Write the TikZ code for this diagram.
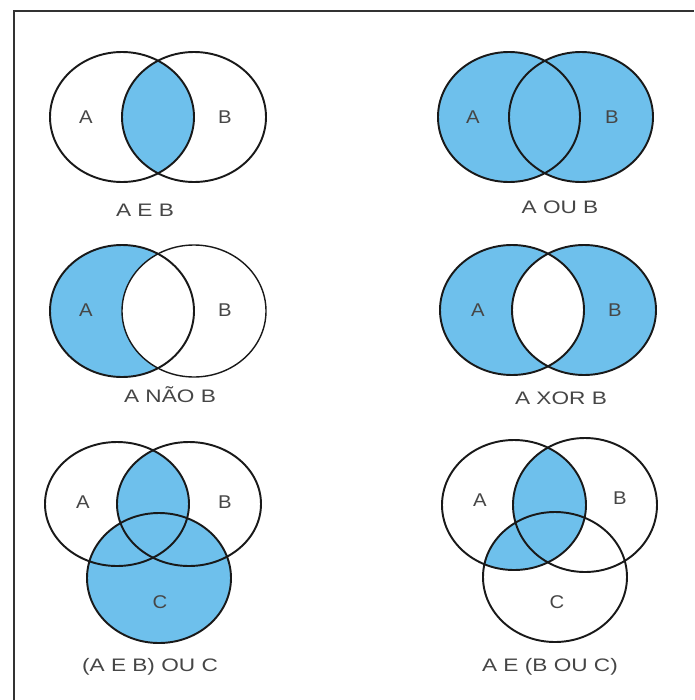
\documentclass[tikz,border=0pt]{standalone}
\usepackage{fontspec}
\setmainfont{Liberation Sans}
\definecolor{setblue}{RGB}{110,192,236}
\definecolor{txtgray}{RGB}{70,70,70}
\begin{document}
\begin{tikzpicture}[x=0.02cm,y=-0.02cm,
  setline/.style={draw=black!90,line width=1.1pt},
  lbl/.style={font=\fontsize{10.5}{12}\selectfont,text=txtgray,inner sep=0pt,xscale=1.1},
  captext/.style={font=\fontsize{10.3}{12}\selectfont,text=txtgray,inner sep=0pt,xscale=1.25}]
\useasboundingbox (0,0) rectangle (694,700);
\fill[white] (0,0) rectangle (694,700);
% frame
\draw[line width=1.6pt,black!80] (14,700) -- (14,11) -- (694,11);

% ---------- Panel 1: A E B
\def\pa{(122,117) ellipse [x radius=72,y radius=65]}
\def\pb{(194,117) ellipse [x radius=72,y radius=65]}
\begin{scope}
  \clip \pa; \fill[setblue] \pb;
\end{scope}
\draw[setline] \pa; \draw[setline] \pb;
\node[lbl] (a1) at (86,117) {A};
\node[lbl] (b1) at (225,117) {B};
\node[captext] (c1) at (145,210) {A E B};

% ---------- Panel 2: A OU B
\def\qa{(509,117) ellipse [x radius=71,y radius=65]}
\def\qb{(581,117) ellipse [x radius=72,y radius=65]}
\fill[setblue] \qa; \fill[setblue] \qb;
\draw[setline] \qa; \draw[setline] \qb;
\node[lbl] (a2) at (473,117) {A};
\node[lbl] (b2) at (612,117) {B};
\node[captext] (c2) at (560,207) {A OU B};

% ---------- Panel 3: A NAO B
\def\ra{(122,311) ellipse [x radius=72,y radius=66]}
\def\rb{(194,311) ellipse [x radius=72,y radius=66]}
\fill[setblue] \ra;
\fill[white] \rb;
\draw[setline] \ra; \draw[draw=black!90,line width=0.8pt] \rb;
\node[lbl] (a3) at (86,310) {A};
\node[lbl] (b3) at (225,310) {B};
\node[captext] (c3) at (170,395) {A NÃO B};

% ---------- Panel 4: A XOR B
\def\sa{(512,310) ellipse [x radius=72,y radius=65]}
\def\sb{(584,310) ellipse [x radius=72,y radius=65]}
\fill[setblue,even odd rule] \sa \sb;
\draw[setline] \sa; \draw[setline] \sb;
\node[lbl] (a4) at (478,310) {A};
\node[lbl] (b4) at (615,310) {B};
\node[captext] (c4) at (561,398) {A XOR B};

% ---------- Panel 5: (A E B) OU C
\def\ta{(117,504) ellipse [x radius=72,y radius=62]}
\def\tb{(189,504) ellipse [x radius=72,y radius=62]}
\def\tc{(159,578) ellipse [x radius=72,y radius=65]}
\begin{scope}
  \clip \ta; \fill[setblue] \tb;
\end{scope}
\fill[setblue] \tc;
\draw[setline] \ta; \draw[setline] \tb; \draw[setline] \tc;
\node[lbl] (a5) at (83,502) {A};
\node[lbl] (b5) at (225,502) {B};
\node[lbl] (cc5) at (160,602) {C};
\node[captext] (c5) at (150,667) {(A E B) OU C};

% ---------- Panel 6: A E (B OU C)
\def\ua{(514,505) ellipse [x radius=72,y radius=65]}
\def\ub{(585,505) ellipse [x radius=72,y radius=67]}
\def\uc{(555,577) ellipse [x radius=72,y radius=65]}
\begin{scope}
  \clip \ua; \fill[setblue] \ub; \fill[setblue] \uc;
\end{scope}
\draw[setline] \ua; \draw[setline] \ub; \draw[setline] \uc;
\node[lbl] (a6) at (480,500) {A};
\node[lbl] (b6) at (620,498) {B};
\node[lbl] (cc6) at (557,602) {C};
\node[captext] (c6) at (550,667) {A E (B OU C)};
\end{tikzpicture}
\end{document}
